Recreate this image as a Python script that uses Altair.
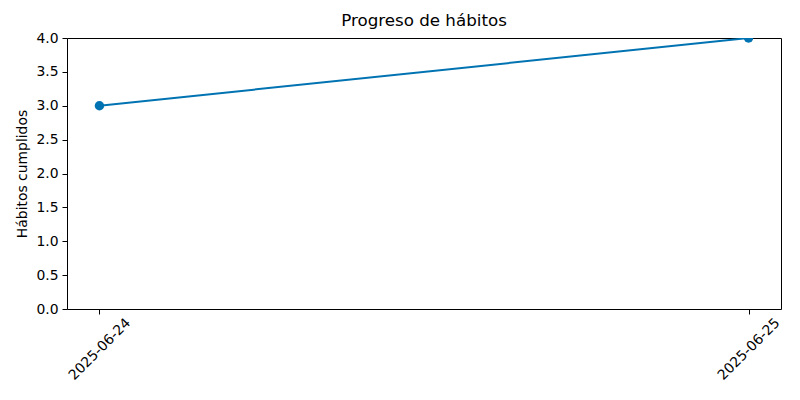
import altair as alt
import pandas as pd

fechas = ["2025-06-24", "2025-06-25"]
habitos = [3, 4]

df = pd.DataFrame({"fecha": fechas, "habitos": habitos})

color = "#0173b2"
FONT = "DejaVu Sans"

x_enc = alt.X(
    "fecha:O",
    sort=fechas,
    scale=alt.Scale(type="point", padding=0.05),
    axis=alt.Axis(
        title=None,
        labelAngle=-45,
        labelAlign="center",
        labelBaseline="middle",
        labelPadding=35,
        tickSize=5,
        tickColor="black",
        domain=False,
        labelFontSize=13.9,
        labelColor="black",
        labelFont=FONT,
    ),
)
y_enc = alt.Y(
    "habitos:Q",
    scale=alt.Scale(domain=[0, 4], nice=False, zero=True),
    axis=alt.Axis(
        title="Hábitos cumplidos",
        values=[0, 0.5, 1, 1.5, 2, 2.5, 3, 3.5, 4],
        format=".1f",
        grid=False,
        domain=False,
        tickSize=5,
        tickColor="black",
        labelPadding=4,
        labelFontSize=13.9,
        labelColor="black",
        labelFont=FONT,
        titleFont=FONT,
        titleFontSize=13.9,
        titleFontWeight="normal",
        titleColor="black",
        titlePadding=6,
    ),
)

line = alt.Chart(df).mark_line(color=color, strokeWidth=2, clip=True).encode(x=x_enc, y=y_enc)
pts = alt.Chart(df).mark_circle(color=color, size=90, opacity=1, clip=True).encode(x=x_enc, y=y_enc)

chart = (
    alt.layer(line, pts)
    .properties(
        width=714,
        height=271,
        padding={"left": 67, "top": 38, "right": 19, "bottom": 91},
        autosize=alt.AutoSizeParams(type="none"),
        title=alt.TitleParams(
            "Progreso de hábitos",
            fontSize=16.7,
            fontWeight="normal",
            font=FONT,
            color="black",
            anchor="middle",
            offset=1,
        ),
    )
    .configure(background="white")
    .configure_view(stroke="black", strokeWidth=1)
)

chart.save("out.html", embed_options={"renderer": "svg", "actions": False})
